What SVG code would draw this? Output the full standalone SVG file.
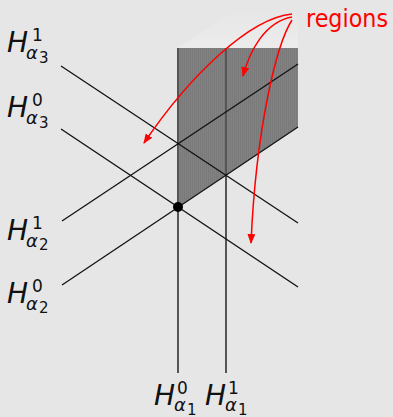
<svg xmlns="http://www.w3.org/2000/svg" width="393" height="417" viewBox="0 0 393 417">
  <defs>
    <style>
      .hyp { stroke: #111; stroke-width: 1.3; fill: none; }
      .vert { stroke: #555; stroke-width: 2; fill: none; }
      .arr { stroke: #ff0000; stroke-width: 1.5; fill: none; marker-end: url(#ah); }
      .lab { font-family: "DejaVu Sans", "Liberation Sans", sans-serif; font-style: italic; fill: #111; }
      .H { font-size: 28px; }
      .sup { font-size: 17px; font-style: normal; }
      .al { font-size: 18px; }
      .sub { font-size: 15px; font-style: normal; }
    </style>
    <marker id="ah" viewBox="0 0 10 8" refX="9" refY="4" markerWidth="10" markerHeight="8" markerUnits="userSpaceOnUse" orient="auto">
      <path d="M0,0 L10,4 L0,8 Z" fill="#ff0000"/>
    </marker>
    <linearGradient id="fade" x1="0" y1="0" x2="0" y2="1">
      <stop offset="0" stop-color="#f0f0f0" stop-opacity="0"/>
      <stop offset="1" stop-color="#f0f0f0" stop-opacity="0.6"/>
    </linearGradient>
    <pattern id="stripes" width="2" height="4" patternUnits="userSpaceOnUse">
      <rect width="2" height="4" fill="#828282"/>
      <rect width="1" height="4" fill="#7a7a7a"/>
    </pattern>
  </defs>
  <rect width="393" height="417" fill="#e6e6e6"/>

  <g id="region">
    <polygon points="178,48 238,8 298,8 298,48" fill="url(#fade)"/>
    <polygon points="178,48 298,48 298,127 178,207" fill="url(#stripes)"/>
  </g>

  <g id="connectors">
    <line class="vert" x1="178" y1="48" x2="178" y2="373"/>
    <line class="vert" x1="226" y1="48" x2="226" y2="373"/>
    <line class="hyp" x1="61" y1="66" x2="298" y2="223"/>
    <line class="hyp" x1="61" y1="129" x2="298" y2="287"/>
    <line class="hyp" x1="62" y1="221" x2="298" y2="64"/>
    <line class="hyp" x1="62" y1="285" x2="298" y2="127"/>
    <path class="arr" d="M292,14 C250,18 190,75 144,143"/>
    <path class="arr" d="M292,17 C265,22 250,50 243,76"/>
    <path class="arr" d="M292,20 C276,45 256,130 251,243"/>
  </g>

  <g id="vertex">
    <circle cx="178" cy="207" r="5" fill="#000"/>
  </g>

  <g id="label-regions">
    <text x="306" y="27" font-family="DejaVu Sans, Liberation Sans, sans-serif" font-size="24" textLength="82" lengthAdjust="spacingAndGlyphs" fill="#ff0000">regions</text>
  </g>

  <g id="label-a3-1" class="lab">
    <text class="H" x="7" y="52">H</text>
    <text class="sup" x="32" y="41">1</text>
    <text class="al" x="26" y="59">α</text>
    <text class="sub" x="39" y="63">3</text>
  </g>
  <g id="label-a3-0" class="lab">
    <text class="H" x="7" y="117">H</text>
    <text class="sup" x="32" y="106">0</text>
    <text class="al" x="26" y="124">α</text>
    <text class="sub" x="39" y="128">3</text>
  </g>
  <g id="label-a2-1" class="lab">
    <text class="H" x="7" y="240">H</text>
    <text class="sup" x="32" y="229">1</text>
    <text class="al" x="26" y="247">α</text>
    <text class="sub" x="39" y="250">2</text>
  </g>
  <g id="label-a2-0" class="lab">
    <text class="H" x="7" y="303">H</text>
    <text class="sup" x="32" y="292">0</text>
    <text class="al" x="26" y="310">α</text>
    <text class="sub" x="39" y="313">2</text>
  </g>
  <g id="label-a1-0" class="lab">
    <text class="H" x="154" y="405">H</text>
    <text class="sup" x="177" y="394">0</text>
    <text class="al" x="174" y="411">α</text>
    <text class="sub" x="187" y="415">1</text>
  </g>
  <g id="label-a1-1" class="lab">
    <text class="H" x="205" y="405">H</text>
    <text class="sup" x="228" y="394">1</text>
    <text class="al" x="225" y="411">α</text>
    <text class="sub" x="238" y="415">1</text>
  </g>
</svg>
